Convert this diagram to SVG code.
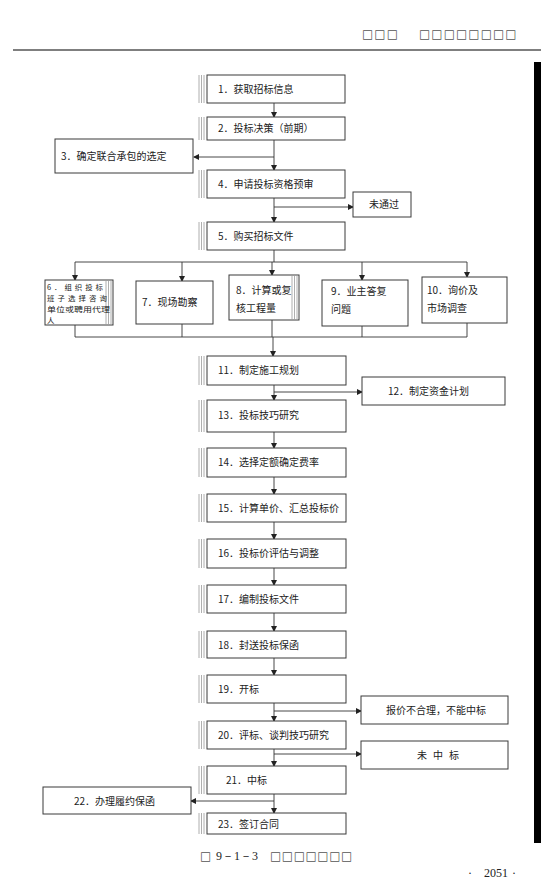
<svg xmlns="http://www.w3.org/2000/svg" width="559" height="892" viewBox="0 0 559 892">
<defs>
<marker id="ah" markerWidth="6" markerHeight="6" refX="5" refY="3" orient="auto" markerUnits="userSpaceOnUse">
<path d="M0,0 L6,3 L0,6 Z" fill="#222"/>
</marker>
<style>
.box{fill:#fff;stroke:#3a3a3a;stroke-width:1}
.deco{stroke:#9a9a9a;stroke-width:0.8;fill:none}
.t{font-family:"Noto Sans CJK SC","Noto Sans",sans-serif;font-size:10px;fill:#222}
.s{font-size:7.4px}
.c{stroke:#333;stroke-width:0.9;fill:none}
.ca{stroke:#333;stroke-width:0.9;fill:none;marker-end:url(#ah)}
.tofu{font-family:"DejaVu Sans",sans-serif;font-size:12px;fill:#555}
.cap{font-family:"Liberation Serif",serif;font-size:12px;fill:#222}
</style>
</defs>
<rect width="559" height="892" fill="#fff"/>

<g id="header">
<text class="tofu" x="362" y="38" letter-spacing="1">□□□</text>
<text class="tofu" x="419" y="38" letter-spacing="1">□□□□□□□□</text>
<line x1="13" y1="50" x2="541" y2="50" stroke="#555" stroke-width="1.6"/>
</g>
<rect id="sidebar" x="534" y="62" width="7" height="781" fill="#000"/>

<g id="connectors">
<line class="ca" x1="274" y1="103" x2="274" y2="117"/>
<line class="ca" x1="274" y1="140" x2="274" y2="170"/>
<line class="ca" x1="274" y1="157" x2="194" y2="157"/>
<line class="ca" x1="274" y1="198" x2="274" y2="222"/>
<line class="ca" x1="274" y1="207" x2="353" y2="207"/>
<line class="c" x1="274" y1="250" x2="274" y2="262"/>
<line class="c" x1="75" y1="262" x2="467" y2="262"/>
<line class="ca" x1="75" y1="262" x2="75" y2="280"/>
<line class="ca" x1="182" y1="262" x2="182" y2="281"/>
<line class="ca" x1="272" y1="262" x2="272" y2="275"/>
<line class="ca" x1="362" y1="262" x2="362" y2="280"/>
<line class="ca" x1="467" y1="262" x2="467" y2="277"/>
<line class="c" x1="75" y1="325" x2="75" y2="337"/>
<line class="c" x1="182" y1="324" x2="182" y2="337"/>
<line class="c" x1="272" y1="320" x2="272" y2="337"/>
<line class="c" x1="362" y1="326" x2="362" y2="337"/>
<line class="c" x1="467" y1="323" x2="467" y2="337"/>
<line class="c" x1="75" y1="337" x2="467" y2="337"/>
<line class="ca" x1="273" y1="337" x2="273" y2="356"/>
<line class="ca" x1="274" y1="385" x2="274" y2="400"/>
<line class="ca" x1="274" y1="392" x2="362" y2="392"/>
<line class="ca" x1="274" y1="432" x2="274" y2="448"/>
<line class="ca" x1="274" y1="477" x2="274" y2="494"/>
<line class="ca" x1="274" y1="522" x2="274" y2="539"/>
<line class="ca" x1="274" y1="568" x2="274" y2="585"/>
<line class="ca" x1="274" y1="613" x2="274" y2="631"/>
<line class="ca" x1="274" y1="658" x2="274" y2="675"/>
<line class="ca" x1="274" y1="703" x2="274" y2="721"/>
<line class="ca" x1="274" y1="711" x2="361" y2="711"/>
<line class="ca" x1="274" y1="749" x2="274" y2="766"/>
<line class="ca" x1="274" y1="754" x2="361" y2="754"/>
<line class="ca" x1="274" y1="794" x2="274" y2="813"/>
<line class="ca" x1="274" y1="801" x2="191" y2="801"/>
</g>

<g id="n1"><path class="deco" d="M199,75V103M201.5,75V103M204,75V103"/><rect class="box" x="207" y="75" width="138" height="28"/><text class="t" x="218" y="93">1．获取招标信息</text></g>
<g id="n2"><path class="deco" d="M199,117V140M201.5,117V140M204,117V140"/><rect class="box" x="207" y="117" width="138" height="23"/><text class="t" x="218" y="132">2．投标决策（前期）</text></g>
<g id="n3"><rect class="box" x="55" y="139" width="138" height="34"/><text class="t" x="61" y="160">3．确定联合承包的选定</text></g>
<g id="n4"><path class="deco" d="M199,170V198M201.5,170V198M204,170V198"/><rect class="box" x="207" y="170" width="138" height="28"/><text class="t" x="218" y="188">4．申请投标资格预审</text></g>
<g id="n4b"><path class="deco" d="M355,192V217M357.5,192V217"/><rect class="box" x="353" y="192" width="58" height="25"/><text class="t" x="369" y="208">未通过</text></g>
<g id="n5"><path class="deco" d="M199,222V250M201.5,222V250M204,222V250"/><rect class="box" x="207" y="222" width="138" height="28"/><text class="t" x="218" y="240">5．购买招标文件</text></g>
<g id="n6"><rect class="box" x="45" y="280" width="68" height="45"/><path class="deco" d="M106,281V324M108.5,281V324M111,281V324"/><text class="t s" x="47" y="290" textLength="56" lengthAdjust="spacing">6．组织投标</text><text class="t s" x="47" y="301" textLength="60" lengthAdjust="spacing">班子选择咨询</text><text class="t s" x="47" y="312" textLength="63" lengthAdjust="spacingAndGlyphs">单位或聘用代理</text><text class="t s" x="47" y="323">人</text></g>
<g id="n7"><path class="deco" d="M138,284V320M140.5,284V320" stroke-dasharray="2,1"/><rect class="box" x="136" y="281" width="77" height="43"/><text class="t" x="142" y="306">7．现场勘察</text></g>
<g id="n8"><rect class="box" x="229" y="275" width="70" height="45"/><path class="deco" d="M292,276V319M294.5,276V319M297,276V319"/><text class="t" x="236" y="294">8．计算或复</text><text class="t" x="236" y="312">核工程量</text></g>
<g id="n9"><path class="deco" d="M324,281V325M326.5,281V325M329,281V325"/><rect class="box" x="322" y="280" width="86" height="46"/><text class="t" x="331" y="295">9．业主答复</text><text class="t" x="331" y="313">问题</text></g>
<g id="n10"><rect class="box" x="422" y="277" width="85" height="46"/><text class="t" x="427" y="294">10．询价及</text><text class="t" x="427" y="312">市场调查</text></g>
<g id="n11"><path class="deco" d="M199,356V385M201.5,356V385M204,356V385"/><rect class="box" x="207" y="356" width="139" height="29"/><text class="t" x="218" y="374">11．制定施工规划</text></g>
<g id="n12"><path class="deco" d="M364,378V404" stroke-dasharray="2,2"/><rect class="box" x="362" y="377" width="143" height="28"/><text class="t" x="388" y="395">12．制定资金计划</text></g>
<g id="n13"><path class="deco" d="M199,400V432M201.5,400V432M204,400V432"/><rect class="box" x="207" y="400" width="139" height="32"/><text class="t" x="218" y="419">13．投标技巧研究</text></g>
<g id="n14"><path class="deco" d="M199,448V477M201.5,448V477M204,448V477"/><rect class="box" x="207" y="448" width="139" height="29"/><text class="t" x="218" y="466">14．选择定额确定费率</text></g>
<g id="n15"><path class="deco" d="M199,494V522M201.5,494V522M204,494V522"/><rect class="box" x="207" y="494" width="139" height="28"/><text class="t" x="218" y="512">15．计算单价、汇总投标价</text></g>
<g id="n16"><path class="deco" d="M199,539V568M201.5,539V568M204,539V568"/><rect class="box" x="207" y="539" width="139" height="29"/><text class="t" x="218" y="557">16．投标价评估与调整</text></g>
<g id="n17"><path class="deco" d="M199,585V613M201.5,585V613M204,585V613"/><rect class="box" x="207" y="585" width="139" height="28"/><text class="t" x="218" y="603">17．编制投标文件</text></g>
<g id="n18"><path class="deco" d="M199,631V658M201.5,631V658M204,631V658"/><rect class="box" x="207" y="631" width="139" height="27"/><text class="t" x="218" y="649">18．封送投标保函</text></g>
<g id="n19"><path class="deco" d="M199,675V703M201.5,675V703M204,675V703"/><rect class="box" x="207" y="675" width="139" height="28"/><text class="t" x="218" y="693">19．开标</text></g>
<g id="n19b"><path class="deco" d="M364,697V723M366.5,697V723M369,697V723"/><rect class="box" x="361" y="696" width="147" height="28"/><text class="t" x="386" y="714">报价不合理，不能中标</text></g>
<g id="n20"><path class="deco" d="M199,721V749M201.5,721V749M204,721V749"/><rect class="box" x="207" y="721" width="139" height="28"/><text class="t" x="218" y="739">20．评标、谈判技巧研究</text></g>
<g id="n20b"><path class="deco" d="M364,742V768M366.5,742V768M369,742V768"/><rect class="box" x="361" y="741" width="147" height="28"/><text class="t" x="417" y="759" letter-spacing="6">未中标</text></g>
<g id="n21"><path class="deco" d="M199,766V794M201.5,766V794M204,766V794"/><rect class="box" x="207" y="766" width="139" height="28"/><text class="t" x="226" y="784">21．中标</text></g>
<g id="n22"><path class="deco" d="M46,788V813M48.5,788V813"/><rect class="box" x="43" y="787" width="148" height="27"/><text class="t" x="74" y="805">22．办理履约保函</text></g>
<g id="n23"><path class="deco" d="M199,813V834M201.5,813V834M204,813V834"/><rect class="box" x="207" y="813" width="139" height="21"/><text class="t" x="218" y="828">23．签订合同</text></g>

<g id="caption">
<text class="tofu" x="200" y="860" font-size="11">□</text>
<text class="cap" x="216" y="860">9－1－3</text>
<text class="tofu" x="270" y="860" font-size="11" letter-spacing="0.5">□□□□□□□</text>
<text class="cap" x="468" y="877">·</text>
<text class="cap" x="484" y="877">2051</text>
<text class="cap" x="512" y="877">·</text>
</g>
</svg>
